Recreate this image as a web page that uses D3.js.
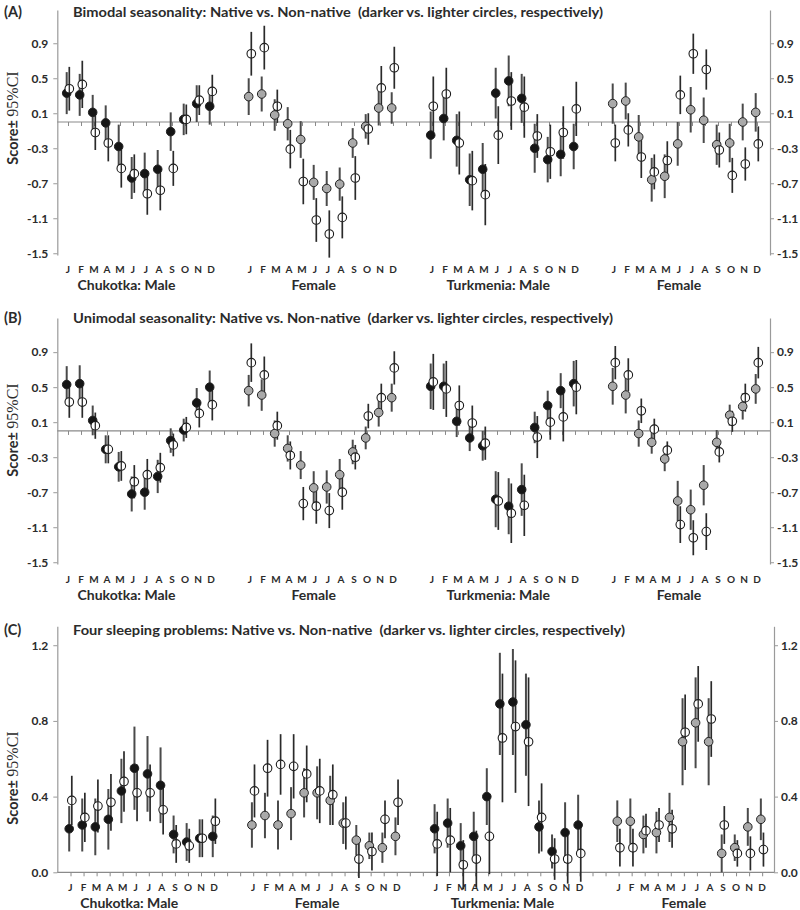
<!DOCTYPE html>
<html>
<head>
<meta charset="utf-8">
<script src="https://cdn.jsdelivr.net/npm/d3@7"></script>
<style>
  body { margin: 0; background: #fff; }
  svg { display: block; }
  text { font-family: Lato, "Open Sans", sans-serif; font-weight: bold; fill: #2b2b2b; }
</style>
</head>
<body>
<svg id="chart" width="800" height="910"></svg>
<script>
var months = ["J", "F", "M", "A", "M", "J", "J", "A", "S", "O", "N", "D"];
var groups = ["Chukotka: Male", "Female", "Turkmenia: Male", "Female"];
var groupStart = [0, 14, 28, 42];
var groupLabelAt = [4.5, 18.9, 33.1, 47.0];
var ticksAB = [0.9, 0.5, 0.1, -0.3, -0.7, -1.1, -1.5];
var ticksC = [0.0, 0.4, 0.8, 1.2];
var titles = [
  "Bimodal seasonality: Native vs. Non-native  (darker vs. lighter circles, respectively)",
  "Unimodal seasonality: Native vs. Non-native  (darker vs. lighter circles, respectively)",
  "Four sleeping problems: Native vs. Non-native  (darker vs. lighter circles, respectively)"
];

// (A) bimodal: Chukotka M, Chukotka F, Turkmenia M, Turkmenia F (12 months each)
var bimodalNative = [
  0.33, 0.31, 0.11, -0.01, -0.28, -0.64, -0.59, -0.54, -0.11, 0.03, 0.21, 0.18,
  0.29, 0.32, 0.08, -0.02, -0.20, -0.69, -0.76, -0.71, -0.24, -0.05, 0.16, 0.16,
  -0.15, 0.04, -0.21, -0.66, -0.54, 0.33, 0.47, 0.27, -0.30, -0.43, -0.37, -0.28,
  0.21, 0.24, -0.17, -0.66, -0.62, -0.25, 0.14, 0.02, -0.26, -0.24, 0.00, 0.11
];
var bimodalNativeCI = [
  0.24, 0.24, 0.20, 0.20, 0.25, 0.24, 0.24, 0.22, 0.22, 0.18, 0.21, 0.21,
  0.21, 0.20, 0.18, 0.19, 0.21, 0.20, 0.20, 0.19, 0.17, 0.14, 0.20, 0.18,
  0.27, 0.25, 0.30, 0.30, 0.30, 0.29, 0.29, 0.28, 0.28, 0.26, 0.25, 0.26,
  0.23, 0.21, 0.25, 0.25, 0.25, 0.25, 0.26, 0.26, 0.23, 0.22, 0.21, 0.22
];
var bimodalNon = [
  0.38, 0.43, -0.12, -0.24, -0.53, -0.59, -0.82, -0.78, -0.53, 0.03, 0.25, 0.35,
  0.78, 0.85, 0.18, -0.31, -0.68, -1.12, -1.28, -1.09, -0.64, -0.08, 0.39, 0.62,
  0.18, 0.32, -0.24, -0.67, -0.83, -0.15, 0.24, 0.17, -0.16, -0.34, -0.12, 0.15,
  -0.24, -0.09, -0.40, -0.57, -0.44, 0.31, 0.78, 0.60, -0.32, -0.61, -0.48, -0.25
];
var bimodalNonCI = [
  0.25, 0.27, 0.20, 0.21, 0.22, 0.22, 0.24, 0.23, 0.20, 0.17, 0.17, 0.19,
  0.25, 0.25, 0.19, 0.22, 0.26, 0.25, 0.27, 0.24, 0.25, 0.18, 0.25, 0.24,
  0.34, 0.30, 0.36, 0.34, 0.35, 0.33, 0.33, 0.35, 0.25, 0.31, 0.30, 0.31,
  0.21, 0.19, 0.24, 0.20, 0.22, 0.22, 0.23, 0.23, 0.20, 0.20, 0.19, 0.20
];

// (B) unimodal
var unimodalNative = [
  0.53, 0.54, 0.12, -0.21, -0.41, -0.72, -0.70, -0.52, -0.11, 0.01, 0.32, 0.50,
  0.46, 0.41, -0.03, -0.20, -0.39, -0.65, -0.64, -0.50, -0.24, -0.08, 0.21, 0.38,
  0.51, 0.51, 0.11, -0.08, -0.17, -0.78, -0.86, -0.67, 0.04, 0.29, 0.46, 0.54,
  0.51, 0.41, -0.03, -0.13, -0.32, -0.80, -0.90, -0.62, -0.13, 0.18, 0.28, 0.48
];
var unimodalNativeCI = [
  0.21, 0.21, 0.17, 0.16, 0.17, 0.20, 0.20, 0.19, 0.14, 0.13, 0.17, 0.19,
  0.18, 0.18, 0.15, 0.15, 0.16, 0.19, 0.19, 0.18, 0.14, 0.13, 0.16, 0.16,
  0.26, 0.26, 0.18, 0.15, 0.17, 0.32, 0.32, 0.30, 0.18, 0.17, 0.20, 0.26,
  0.21, 0.21, 0.15, 0.13, 0.14, 0.23, 0.23, 0.23, 0.14, 0.12, 0.15, 0.17
];
var unimodalNon = [
  0.33, 0.33, 0.06, -0.21, -0.40, -0.58, -0.50, -0.42, -0.16, 0.04, 0.20, 0.30,
  0.78, 0.64, 0.06, -0.28, -0.83, -0.86, -0.91, -0.70, -0.30, 0.17, 0.38, 0.72,
  0.56, 0.48, 0.29, 0.09, -0.14, -0.80, -0.94, -0.85, -0.07, 0.10, 0.16, 0.50,
  0.78, 0.64, 0.23, 0.02, -0.22, -1.07, -1.22, -1.15, -0.24, 0.11, 0.38, 0.78
];
var unimodalNonCI = [
  0.18, 0.18, 0.15, 0.16, 0.17, 0.19, 0.18, 0.17, 0.13, 0.12, 0.16, 0.18,
  0.22, 0.21, 0.16, 0.16, 0.19, 0.20, 0.20, 0.20, 0.14, 0.14, 0.16, 0.19,
  0.32, 0.32, 0.23, 0.20, 0.19, 0.33, 0.34, 0.35, 0.24, 0.20, 0.28, 0.31,
  0.19, 0.19, 0.14, 0.12, 0.10, 0.21, 0.20, 0.21, 0.12, 0.12, 0.16, 0.18
];

// (C) four sleeping problems
var sleepNative = [
  0.23, 0.25, 0.24, 0.28, 0.43, 0.55, 0.52, 0.46, 0.20, 0.16, 0.18, 0.19,
  0.25, 0.30, 0.25, 0.31, 0.42, 0.42, 0.38, 0.26, 0.17, 0.14, 0.13, 0.19,
  0.23, 0.26, 0.14, 0.19, 0.40, 0.89, 0.90, 0.78, 0.24, 0.11, 0.21, 0.25,
  0.27, 0.27, 0.20, 0.21, 0.29, 0.69, 0.79, 0.69, 0.10, 0.13, 0.24, 0.28
];
var sleepNativeCI = [
  0.12, 0.14, 0.15, 0.16, 0.17, 0.22, 0.20, 0.20, 0.10, 0.10, 0.10, 0.11,
  0.12, 0.12, 0.13, 0.14, 0.13, 0.14, 0.13, 0.11, 0.08, 0.07, 0.08, 0.10,
  0.13, 0.13, 0.12, 0.13, 0.15, 0.27, 0.28, 0.27, 0.14, 0.09, 0.16, 0.16,
  0.11, 0.12, 0.10, 0.11, 0.13, 0.23, 0.24, 0.23, 0.10, 0.07, 0.10, 0.11
];
var sleepNon = [
  0.38, 0.29, 0.35, 0.37, 0.48, 0.42, 0.42, 0.33, 0.15, 0.14, 0.18, 0.27,
  0.43, 0.55, 0.57, 0.56, 0.52, 0.43, 0.41, 0.26, 0.07, 0.11, 0.28, 0.37,
  0.15, 0.17, 0.04, 0.07, 0.19, 0.71, 0.77, 0.69, 0.29, 0.07, 0.07, 0.10,
  0.13, 0.13, 0.22, 0.25, 0.23, 0.74, 0.89, 0.81, 0.25, 0.10, 0.10, 0.12
];
var sleepNonCI = [
  0.13, 0.13, 0.14, 0.15, 0.16, 0.15, 0.15, 0.13, 0.10, 0.09, 0.10, 0.12,
  0.14, 0.15, 0.16, 0.17, 0.15, 0.17, 0.16, 0.14, 0.10, 0.10, 0.10, 0.12,
  0.17, 0.17, 0.13, 0.15, 0.20, 0.34, 0.35, 0.34, 0.18, 0.11, 0.13, 0.15,
  0.10, 0.10, 0.09, 0.09, 0.10, 0.20, 0.20, 0.20, 0.10, 0.07, 0.09, 0.09
];

var nativeFill = ["#151515", "#a9a9a9", "#151515", "#a9a9a9"];

var panels = [
  { tag: "(A)", title: titles[0], native: bimodalNative, nativeCI: bimodalNativeCI, non: bimodalNon, nonCI: bimodalNonCI,
    yDomain: [-1.52, 1.28], yRange: [255, 10], ticks: ticksAB, x0: 68, step: 13, right: 770,
    titleY: 12, titleLen: 530, labelY: 118, monthY: 269, groupY: 285 },
  { tag: "(B)", title: titles[1], native: unimodalNative, nativeCI: unimodalNativeCI, non: unimodalNon, nonCI: unimodalNonCI,
    yDomain: [-1.52, 1.29], yRange: [564, 318], ticks: ticksAB, x0: 68, step: 13, right: 770,
    titleY: 318, titleLen: 540, labelY: 430, monthY: 579, groupY: 595 },
  { tag: "(C)", title: titles[2], native: sleepNative, nativeCI: sleepNativeCI, non: sleepNon, nonCI: sleepNonCI,
    yDomain: [0, 1.3], yRange: [872.3, 626.3], ticks: ticksC, x0: 70.5, step: 13.05, right: 774,
    titleY: 630, titleLen: 552, labelY: 778, monthY: 887, groupY: 903 }
];

var svg = d3.select("#chart");
var leftX = 57.3;

panels.forEach(function(p) {
  var g = svg.append("g");
  var x = d3.scaleLinear().domain([0, 53]).range([p.x0, p.x0 + 53 * p.step]);
  var y = d3.scaleLinear().domain(p.yDomain).range(p.yRange);
  var fmt = function(d) { return d.toFixed(1); };

  // tag + title
  g.append("text").attr("x", 4).attr("y", p.titleY).attr("dy", "0.35em")
    .style("font-size", "14.5px").text(p.tag);
  g.append("text").attr("x", 73).attr("y", p.titleY).attr("dy", "0.35em")
    .style("font-size", "13.5px").style("white-space", "pre")
    .attr("textLength", p.titleLen).attr("lengthAdjust", "spacingAndGlyphs")
    .text(p.title);

  // y axes
  var la = g.append("g").attr("transform", `translate(${leftX},0)`)
    .call(d3.axisLeft(y).tickValues(p.ticks).tickSize(4).tickSizeOuter(0).tickFormat(fmt));
  var ra = g.append("g").attr("transform", `translate(${p.right},0)`)
    .call(d3.axisRight(y).tickValues(p.ticks).tickSize(4).tickSizeOuter(0).tickFormat(fmt));
  [la, ra].forEach(function(a) {
    a.select(".domain").attr("stroke", "#9a9a9a").attr("stroke-width", 1.2);
    a.selectAll(".tick line").attr("stroke", "#9a9a9a");
    a.selectAll(".tick text").style("font-size", "12px").attr("fill", "#333")
      .style("font-family", "Lato, sans-serif").style("font-weight", "bold");
  });
  la.selectAll(".tick text").attr("x", -9);
  ra.selectAll(".tick text").attr("x", 7);

  // baseline with month ticks
  var xa = g.append("g").attr("transform", `translate(0,${y(0)})`)
    .call(d3.axisBottom(x).tickValues(d3.range(54)).tickSize(4).tickSizeOuter(0).tickFormat(""));
  xa.select(".domain").remove();
  xa.selectAll(".tick line").attr("stroke", "#8a8a8a");
  g.append("line").attr("x1", leftX).attr("x2", p.right)
    .attr("y1", y(0)).attr("y2", y(0))
    .attr("stroke", "#8a8a8a").attr("stroke-width", 1.2);

  // y label
  var yl = g.append("text")
    .attr("transform", `translate(13,${p.labelY}) rotate(-90)`)
    .attr("text-anchor", "middle").attr("dy", "0.35em")
    .style("font-size", "14.5px");
  yl.append("tspan").text("Score± ");
  yl.append("tspan").style("font-family", "'Liberation Serif', 'DejaVu Serif', serif")
    .style("font-weight", "normal").style("font-size", "16px").text("95%CI");

  // month + group labels
  groups.forEach(function(name, gi) {
    months.forEach(function(m, mi) {
      g.append("text").attr("x", x(groupStart[gi] + mi)).attr("y", p.monthY)
        .attr("dy", "0.35em").attr("text-anchor", "middle")
        .style("font-size", "10px").text(m);
    });
    g.append("text").attr("x", x(groupLabelAt[gi])).attr("y", p.groupY)
      .attr("dy", "0.35em").attr("text-anchor", "middle")
      .style("font-size", "14px").text(name);
  });

  // build points
  var pts = [];
  p.native.forEach(function(v, k) {
    var gi = Math.floor(k / 12), mi = k % 12;
    pts.push({ pos: groupStart[gi] + mi, v: v, ci: p.nativeCI[k], non: false, fill: nativeFill[gi] });
  });
  p.non.forEach(function(v, k) {
    var gi = Math.floor(k / 12), mi = k % 12;
    pts.push({ pos: groupStart[gi] + mi, v: v, ci: p.nonCI[k], non: true, fill: "#fff" });
  });
  var off = function(d) { return x(d.pos) + (d.non ? 1.3 : -1.3); };

  var nat = pts.filter(function(d) { return !d.non; });
  var non = pts.filter(function(d) { return d.non; });

  var drawBars = function(data, color, w) {
    g.append("g").selectAll("line").data(data).enter().append("line")
      .attr("x1", off).attr("x2", off)
      .attr("y1", function(d) { return y(d.v + d.ci); })
      .attr("y2", function(d) { return y(d.v - d.ci); })
      .attr("stroke", color).attr("stroke-width", w);
  };

  drawBars(nat, "#4a4a4a", 2);
  drawBars(non, "#2a2a2a", 1.7);

  g.append("g").selectAll("circle").data(nat).enter().append("circle")
    .attr("cx", off).attr("cy", function(d) { return y(d.v); }).attr("r", 4.3)
    .attr("fill", function(d) { return d.fill; })
    .attr("stroke", "#222").attr("stroke-width", 1);

  g.append("g").selectAll("circle").data(non).enter().append("circle")
    .attr("cx", off).attr("cy", function(d) { return y(d.v); }).attr("r", 4.3)
    .attr("fill", "#fff").attr("stroke", "#1a1a1a").attr("stroke-width", 1.1);

  // bar shows through the open circles
  g.append("g").selectAll("line").data(non).enter().append("line")
    .attr("x1", off).attr("x2", off)
    .attr("y1", function(d) { return y(d.v) - 4.3; })
    .attr("y2", function(d) { return y(d.v) + 4.3; })
    .attr("stroke", "#2a2a2a").attr("stroke-width", 1.3);
});
</script>
</body>
</html>
